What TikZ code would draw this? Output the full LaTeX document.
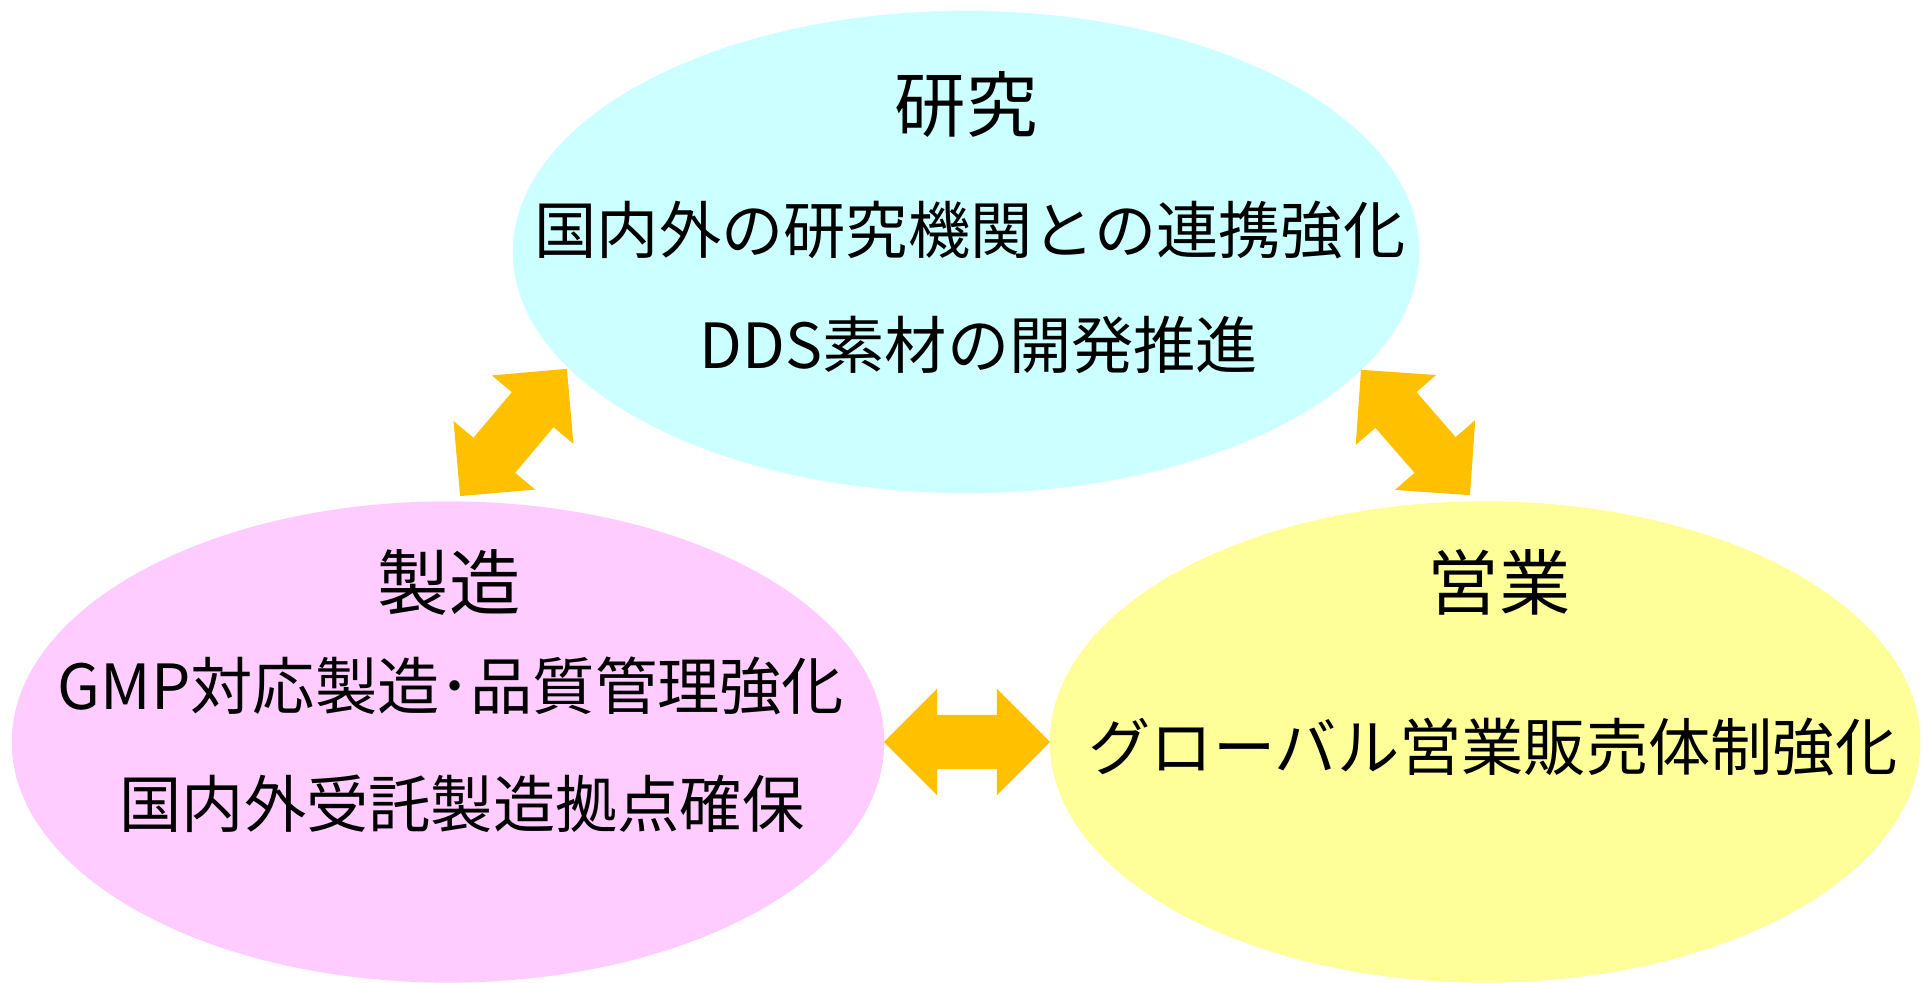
\documentclass[tikz,border=0pt]{standalone}
\usepackage{fontspec}
\setmainfont{Noto Sans CJK JP}
\usetikzlibrary{shapes.geometric,shapes.arrows}
\definecolor{researchcyan}{HTML}{CCFFFF}
\definecolor{makingpink}{HTML}{FFCCFF}
\definecolor{salesyellow}{HTML}{FFFF99}
\definecolor{linkorange}{HTML}{FFC000}
\begin{document}
\begin{tikzpicture}[x=0.01cm,y=0.01cm,
            field/.style={ellipse, inner sep=0pt, draw=none},
            title text/.style={font=\fontsize{20.3pt}{24pt}\selectfont},
            body text/.style={font=\fontsize{17.7pt}{21pt}\selectfont},
            link arrow/.style={double arrow, fill=linkorange, draw=none, inner sep=0.265cm,
                minimum height=1.66cm, minimum width=1.05cm,
                double arrow head extend=0.26cm, double arrow tip angle=90}
    ]
        \useasboundingbox (0,0) rectangle (1930,983);
        % Fields
        \node[field, fill=researchcyan, minimum width=9.06cm, minimum height=4.82cm] (research) at (966,731) {};
        \node[field, fill=makingpink, minimum width=8.72cm, minimum height=4.81cm] (making) at (448,241) {};
        \node[field, fill=salesyellow, minimum width=8.70cm, minimum height=4.81cm] (sales) at (1485,241) {};

        % Research
        \node[title text] (research_title) at (966,878) {研究};
        \node[body text] (research_l1) at (970,753) {国内外の研究機関との連携強化};
        \node[body text] (research_l2) at (979,638) {DDS素材の開発推進};

        % Manufacturing
        \node[title text] (making_title) at (449,401) {製造};
        \node[body text] (making_l1) at (451,297) {GMP対応製造･品質管理強化};
        \node[body text] (making_l2) at (462,179) {国内外受託製造拠点確保};

        % Sales
        \node[title text] (sales_title) at (1499,401) {営業};
        \node[body text] (sales_l1) at (1493,236) {グローバル営業販売体制強化};

        % Arrows
        \node[link arrow, rotate=50] (link_rm) at (513.5,550.5) {};
        \node[link arrow, rotate=131] (link_rs) at (1415.5,550.5) {};
        \node[link arrow] (link_ms) at (967,241) {};

    \end{tikzpicture}
\end{document}
